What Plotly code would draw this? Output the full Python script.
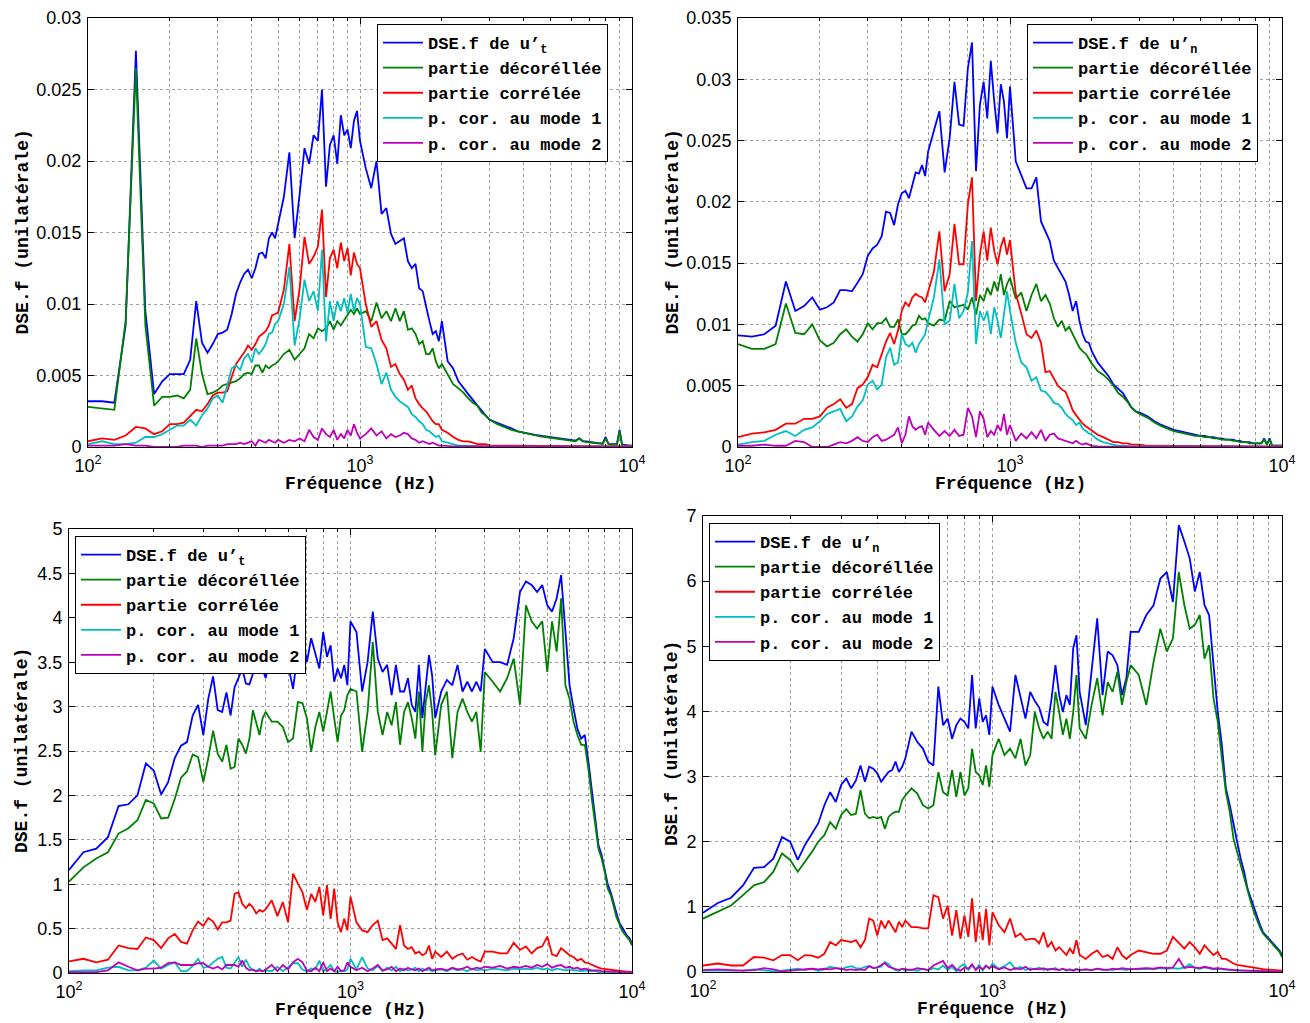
import plotly.graph_objects as go

# ---------------- frequency grid (Hz) ----------------
freq = [100, 112.5, 125, 137.5, 150, 162.5, 175, 187.5, 200, 212.5, 225, 237.5, 250, 262.5, 275, 287.5, 300,
        312.5, 325, 337.5, 350, 362.5, 375, 387.5, 400, 412.5, 425, 437.5, 450, 462.5, 475, 487.5, 500,
        525, 550, 575, 600, 625, 650, 675, 700, 725, 750, 775, 800, 825, 850, 875, 900, 925, 950, 975, 1000,
        1050, 1100, 1150, 1200, 1250, 1300, 1350, 1400, 1450, 1500, 1550, 1600, 1650, 1700, 1750, 1800, 1850, 1900, 1950, 2000,
        2100, 2200, 2300, 2400, 2500, 2600, 2700, 2800, 2900, 3000, 3200, 3400, 3600, 3800, 4000,
        4200, 4400, 4600, 4800, 5000, 5200, 5400, 5600, 5800, 6000, 6200, 6400, 6600, 6800, 7000, 7200, 7400, 7600, 7800, 8000,
        8200, 8400, 8600, 8800, 9000, 9200, 9400, 9600, 9800, 10000]

# ---------------- top-left : u't ----------------
tl_total = [.0032, .0032, .0031, .0085, .0277, .0095, .0037, .0046, .0051, .0051, .0051, .0061, .0102, .0073, .0066, .0072, .0079, .0080, .0082, .0093, .0107, .0115, .0121, .0124, .0118, .0125, .0135, .0136, .0132, .0146, .0150, .0146, .0156,
            .0175, .0206, .0146, .0177, .0209, .0198, .0218, .0214, .0250, .0182, .0211, .0218, .0198, .0232, .0218, .0222, .0209, .0228, .0235, .0214,
            .0195, .0181, .0200, .0163, .0167, .0149, .0142, .0144, .0146, .0130, .0125, .0128, .0111, .0109, .0097, .0088, .0079, .0081, .0074, .0088,
            .0060, .0055, .0046, .0041, .0037, .0033, .0029, .0025, .0022, .0019, .0017, .0015, .0013, .0011, .0010,
            .0009, .00085, .0008, .00075, .0007, .00065, .0006, .00055, .0005, .0005, .00045, .0006, .0004, .0004, .00035, .0003, .0003, .00025, .00025, .0007,
            .0002, .0002, .0002, .0002, .0012, .00015, .00015, .0001, .0001, .0001]
tl_decor = [.0028, .0027, .0026, .0088, .0265, .0085, .0029, .0035, .0035, .0036, .0034, .0040, .0076, .0051, .0037, .0038, .0040, .0043, .0044, .0045, .0046, .0048, .0051, .0052, .0051, .0057, .0057, .0052, .0057, .0055, .0057, .0058, .0060,
            .0065, .0068, .0061, .0065, .0069, .0079, .0076, .0083, .0081, .0083, .0088, .0082, .0088, .0085, .0089, .0092, .0096, .0093, .0097, .0093,
            .0095, .0088, .0101, .0090, .0095, .0088, .0097, .0088, .0095, .0082, .0083, .0079, .0072, .0074, .0065, .0065, .0069, .0060, .0055, .0058,
            .0051, .0044, .0041, .0038, .0034, .0031, .0029, .0024, .0022, .0019, .0016, .0014, .0012, .0011, .0010,
            .0009, .0008, .00075, .0007, .00065, .0006, .00055, .0005, .0005, .00045, .0004, .0006, .0004, .00035, .0003, .0003, .00025, .00025, .0002, .0006,
            .0002, .00015, .00015, .00015, .0011, .0001, .0001, .0001, .0001, .0001]
tl_corr = [.0004, .0006, .0005, .0008, .0014, .0013, .0009, .0011, .0016, .0016, .0017, .0022, .0026, .0025, .0030, .0036, .0038, .0038, .0039, .0049, .0058, .0062, .0066, .0071, .0068, .0072, .0077, .0079, .0081, .0085, .0092, .0093, .0094,
           .0110, .0142, .0088, .0111, .0147, .0128, .0133, .0140, .0166, .0105, .0132, .0138, .0125, .0143, .0130, .0139, .0120, .0136, .0128, .0125,
           .0100, .0084, .0088, .0075, .0069, .0056, .0058, .0051, .0047, .0040, .0043, .0034, .0030, .0027, .0025, .0021, .0018, .0016, .0016, .0012,
           .0010, .0007, .0005, .0004, .0004, .0003, .0002, .0002, .0002, .0001, .0001, .0001, .0001, .0001, .0001,
           .0001, .0001, .0001, .0001, .0001, .00005, .00005, .00005, .00005, .00005, .00005, .00005, .00005, .00005, .00005, .00005, .00005, .00005, .00005, .00005,
           .00005, .00005, .00005, .00005, .00005, .00005, .00005, .00005, .00005, .00005]
tl_mode1 = [.0002, .0004, .0002, .0002, .0003, .0007, .0007, .0009, .0012, .0015, .0015, .0019, .0015, .0022, .0027, .0034, .0036, .0031, .0043, .0055, .0057, .0054, .0062, .0065, .0059, .0069, .0065, .0068, .0072, .0079, .0080, .0086, .0088,
            .0100, .0126, .0071, .0090, .0117, .0102, .0109, .0095, .0138, .0074, .0102, .0088, .0102, .0095, .0104, .0094, .0107, .0095, .0104, .0100,
            .0070, .0069, .0058, .0044, .0052, .0040, .0035, .0032, .0030, .0028, .0023, .0021, .0018, .0016, .0012, .0011, .0009, .0007, .0008, .0004,
            .0003, .0002, .0001, .0001, .0001, .00005, .00005, .00005, .00005, .00005, .00003, .00003, .00003, .00003, .00003,
            .00002, .00002, .00002, .00002, .00002, .00002, .00002, .00002, .00002, .00002, .00002, .00002, .00002, .00002, .00002, .00002, .00002, .00002, .00002, .00002,
            .00002, .00002, .00002, .00002, .00002, .00002, .00002, .00002, .00002, .00002]
tl_mode2 = [.0001, .0001, .0001, .0002, .0001, .0001, .0000, .0000, .0000, .0000, .0001, .0001, .0001, .0000, .0001, .0001, .0001, .0001, .0002, .0002, .0002, .0003, .0002, .0003, .0004, .0001, .0005, .0004, .0003, .0005, .0004, .0003, .0005,
            .0003, .0005, .0004, .0006, .0004, .0012, .0007, .0005, .0013, .0009, .0007, .0012, .0005, .0009, .0006, .0012, .0008, .0016, .0010, .0006,
            .0009, .0013, .0008, .0011, .0006, .0009, .0007, .0008, .0010, .0009, .0006, .0005, .0003, .0004, .0003, .0002, .0003, .0002, .0001, .0001,
            .00005, .00005, .00005, .00005, .00005, .00003, .00003, .00003, .00003, .00003, .00003, .00003, .00003, .00003, .00003,
            .00001, .00001, .00001, .00001, .00001, .00001, .00001, .00001, .00001, .00001, .00001, .00001, .00001, .00001, .00001, .00001, .00001, .00001, .00001, .00001,
            .00001, .00001, .00001, .00001, .00001, .00001, .00001, .00001, .00001, .00001]

# ---------------- top-right : u'n ----------------
tr_total = [.0091, .0090, .0092, .0099, .0135, .0111, .0115, .0122, .0112, .0114, .0118, .0128, .0128, .0127, .0134, .0141, .0156, .0162, .0165, .0172, .0192, .0191, .0181, .0198, .0207, .0209, .0203, .0215, .0224, .0223, .0230, .0221, .0241,
            .0258, .0274, .0224, .0252, .0298, .0263, .0262, .0309, .0330, .0225, .0279, .0298, .0268, .0315, .0282, .0256, .0296, .0282, .0252, .0294,
            .0233, .0222, .0211, .0211, .0220, .0184, .0176, .0168, .0152, .0146, .0141, .0135, .0124, .0111, .0119, .0103, .0092, .0086, .0085, .0078,
            .0069, .0063, .0058, .0051, .0047, .0044, .0038, .0032, .0029, .0028, .0025, .0021, .0018, .0016, .0014,
            .0013, .0012, .0011, .0010, .0009, .0009, .0008, .0008, .0007, .0007, .0006, .0006, .0006, .0005, .0005, .0004, .0004, .0004, .0003, .0003,
            .0003, .0003, .0007, .0002, .0007, .0001, .0001, .0001, .0001, .0001]
tr_decor = [.0084, .0080, .0080, .0084, .0117, .0093, .0092, .0100, .0087, .0082, .0085, .0092, .0096, .0090, .0086, .0092, .0101, .0096, .0101, .0101, .0105, .0098, .0098, .0104, .0092, .0092, .0095, .0099, .0100, .0107, .0104, .0105, .0101,
            .0099, .0104, .0103, .0119, .0114, .0115, .0116, .0112, .0122, .0108, .0124, .0119, .0130, .0124, .0135, .0127, .0141, .0124, .0133, .0138,
            .0121, .0126, .0111, .0124, .0133, .0119, .0124, .0117, .0105, .0098, .0103, .0095, .0098, .0092, .0087, .0081, .0078, .0076, .0072, .0068,
            .0062, .0059, .0055, .0050, .0044, .0041, .0037, .0032, .0029, .0027, .0024, .0020, .0017, .0015, .0013,
            .0012, .0011, .0010, .0009, .0009, .0008, .0008, .0007, .0007, .0006, .0006, .0006, .0005, .0005, .0004, .0004, .0004, .0003, .0003, .0003,
            .0003, .0003, .0006, .0002, .0006, .0001, .0001, .0001, .0001, .0001]
tr_corr = [.0008, .0011, .0012, .0014, .0019, .0019, .0023, .0023, .0025, .0032, .0035, .0039, .0032, .0035, .0048, .0051, .0057, .0067, .0065, .0076, .0086, .0093, .0084, .0095, .0111, .0118, .0115, .0122, .0125, .0123, .0122, .0118, .0127,
           .0143, .0176, .0127, .0141, .0182, .0149, .0149, .0198, .0220, .0119, .0157, .0176, .0152, .0179, .0160, .0149, .0163, .0171, .0157, .0169,
           .0125, .0109, .0092, .0089, .0095, .0085, .0061, .0062, .0056, .0050, .0047, .0045, .0038, .0030, .0026, .0022, .0019, .0017, .0015, .0013,
           .0010, .0008, .0006, .0004, .0004, .0003, .0003, .0002, .0002, .0002, .0001, .0001, .0001, .0001, .0001,
           .0001, .0001, .0001, .0001, .0001, .0001, .00005, .00005, .00005, .00005, .00005, .00005, .00005, .00005, .00005, .00005, .00005, .00005, .00005, .00005,
           .00005, .00005, .00005, .00005, .00005, .00005, .00005, .00005, .00005, .00005]
tr_mode1 = [.0002, .0004, .0005, .0010, .0013, .0009, .0014, .0016, .0021, .0027, .0029, .0031, .0021, .0025, .0033, .0038, .0051, .0054, .0047, .0051, .0073, .0081, .0067, .0069, .0092, .0084, .0082, .0085, .0077, .0084, .0088, .0092, .0103,
            .0122, .0153, .0100, .0103, .0133, .0105, .0111, .0126, .0168, .0084, .0111, .0103, .0111, .0092, .0114, .0103, .0089, .0108, .0127, .0111,
            .0085, .0069, .0065, .0054, .0057, .0046, .0045, .0041, .0036, .0035, .0032, .0027, .0024, .0022, .0018, .0020, .0015, .0013, .0011, .0010,
            .0006, .0004, .0003, .0002, .0001, .0001, .00005, .00005, .00005, .00005, .00003, .00003, .00003, .00003, .00003,
            .00002, .00002, .00002, .00002, .00002, .00002, .00002, .00002, .00002, .00002, .00002, .00002, .00002, .00002, .00002, .00002, .00002, .00002, .00002, .00002,
            .00002, .00002, .00002, .00002, .00002, .00002, .00002, .00002, .00002, .00002]
tr_mode2 = [.0001, .0001, .0002, .0001, .0001, .0005, .0004, .0000, .0000, .0000, .0002, .0004, .0003, .0005, .0008, .0005, .0004, .0008, .0010, .0005, .0006, .0008, .0010, .0016, .0003, .0010, .0025, .0017, .0014, .0016, .0017, .0010, .0020,
            .0014, .0009, .0013, .0009, .0014, .0009, .0010, .0032, .0025, .0008, .0029, .0023, .0008, .0013, .0010, .0018, .0013, .0027, .0010, .0018,
            .0005, .0011, .0007, .0012, .0007, .0014, .0005, .0010, .0011, .0007, .0006, .0005, .0004, .0003, .0005, .0003, .0002, .0003, .0002, .0001,
            .00005, .00005, .00005, .00005, .00005, .00003, .00003, .00003, .00003, .00003, .00003, .00003, .00003, .00003, .00003,
            .00001, .00001, .00001, .00001, .00001, .00001, .00001, .00001, .00001, .00001, .00001, .00001, .00001, .00001, .00001, .00001, .00001, .00001, .00001, .00001,
            .00001, .00001, .00001, .00001, .00001, .00001, .00001, .00001, .00001, .00001]

# ---------------- bottom-left : u't ----------------
bl_total = [1.16, 1.36, 1.40, 1.53, 1.88, 1.90, 2.00, 2.36, 2.28, 2.01, 2.15, 2.42, 2.56, 2.60, 2.90, 3.02, 2.68, 3.09, 3.34, 2.96, 2.94, 3.16, 2.90, 3.22, 3.32, 3.43, 3.26, 3.25, 3.37, 3.69, 3.52, 3.41, 3.32,
            3.73, 3.50, 3.50, 3.47, 3.20, 3.62, 3.81, 3.50, 3.77, 3.60, 3.43, 3.84, 3.56, 3.69, 3.28, 3.43, 3.32, 3.47, 3.24, 3.96,
            3.84, 3.17, 3.50, 4.07, 3.54, 3.39, 3.47, 3.13, 3.47, 3.17, 3.17, 3.32, 3.02, 2.94, 3.47, 2.87, 3.20, 3.58, 3.35, 2.87,
            3.17, 3.30, 3.24, 3.47, 3.17, 3.28, 3.17, 3.28, 3.17, 3.65, 3.50, 3.50, 3.47, 3.77, 4.29,
            4.41, 4.37, 4.29, 4.37, 4.14, 4.07, 4.22, 4.48, 3.88, 3.24, 2.98, 2.75, 2.64, 2.68, 2.38, 2.04, 1.78, 1.44, 1.33, 1.18,
            1.00, 0.91, 0.80, 0.67, 0.57, 0.52, 0.46, 0.42, 0.39, 0.33]
bl_decor = [1.03, 1.19, 1.29, 1.36, 1.57, 1.63, 1.72, 1.95, 1.91, 1.74, 1.75, 1.96, 2.20, 2.27, 2.46, 2.43, 2.15, 2.42, 2.73, 2.47, 2.38, 2.57, 2.30, 2.32, 2.64, 2.57, 2.47, 2.64, 2.96, 2.83, 2.68, 2.87, 2.94,
            2.83, 2.83, 2.77, 2.60, 2.64, 3.05, 3.04, 2.87, 2.49, 2.77, 2.94, 2.72, 2.94, 3.17, 2.87, 2.60, 2.90, 2.96, 3.13, 3.20,
            3.17, 2.49, 2.94, 3.73, 2.94, 2.68, 2.94, 2.79, 3.05, 2.57, 2.94, 3.05, 2.87, 2.64, 3.17, 2.49, 3.05, 3.24, 2.94, 2.45,
            3.02, 3.17, 2.42, 2.94, 3.09, 2.94, 2.83, 2.94, 2.49, 3.39, 3.28, 3.17, 3.32, 3.54, 3.02,
            4.14, 3.96, 3.88, 3.96, 3.39, 3.96, 3.62, 4.22, 3.24, 3.09, 2.83, 2.68, 2.57, 2.57, 2.30, 1.96, 1.70, 1.40, 1.29, 1.14,
            0.95, 0.88, 0.76, 0.63, 0.56, 0.48, 0.44, 0.41, 0.37, 0.31]
bl_corr = [0.13, 0.16, 0.12, 0.15, 0.31, 0.28, 0.27, 0.40, 0.37, 0.28, 0.39, 0.44, 0.35, 0.33, 0.48, 0.58, 0.53, 0.62, 0.58, 0.49, 0.57, 0.57, 0.59, 0.89, 0.91, 0.78, 0.73, 0.78, 0.74, 0.67, 0.71, 0.69, 0.72,
           0.82, 0.64, 0.80, 0.57, 1.12, 1.01, 0.91, 0.71, 0.89, 0.80, 0.97, 0.65, 0.99, 0.61, 0.95, 0.57, 0.46, 0.61, 0.48, 0.86,
           0.57, 0.48, 0.46, 0.54, 0.59, 0.37, 0.39, 0.33, 0.27, 0.54, 0.31, 0.27, 0.29, 0.22, 0.24, 0.20, 0.22, 0.31, 0.16, 0.24,
           0.18, 0.24, 0.16, 0.20, 0.22, 0.15, 0.18, 0.15, 0.13, 0.24, 0.24, 0.22, 0.22, 0.34, 0.26,
           0.30, 0.22, 0.28, 0.30, 0.41, 0.21, 0.19, 0.28, 0.24, 0.20, 0.18, 0.14, 0.16, 0.12, 0.11, 0.09, 0.07, 0.06, 0.05, 0.045,
           0.04, 0.035, 0.03, 0.03, 0.025, 0.02, 0.02, 0.015, 0.015, 0.01]
bl_mode1 = [0.02, 0.03, 0.03, 0.06, 0.07, 0.03, 0.03, 0.06, 0.14, 0.05, 0.09, 0.12, 0.02, 0.02, 0.08, 0.16, 0.06, 0.07, 0.12, 0.16, 0.18, 0.06, 0.05, 0.11, 0.18, 0.07, 0.15, 0.07, 0.03, 0.02, 0.05, 0.02, 0.03,
            0.02, 0.07, 0.02, 0.07, 0.11, 0.11, 0.04, 0.02, 0.05, 0.04, 0.14, 0.02, 0.05, 0.09, 0.02, 0.01, 0.03, 0.02, 0.04, 0.16,
            0.04, 0.18, 0.05, 0.03, 0.08, 0.02, 0.06, 0.03, 0.07, 0.02, 0.05, 0.03, 0.04, 0.06, 0.02, 0.05, 0.03, 0.04, 0.02, 0.03,
            0.04, 0.02, 0.05, 0.03, 0.04, 0.02, 0.05, 0.03, 0.04, 0.03, 0.05, 0.04, 0.03, 0.05, 0.04,
            0.05, 0.04, 0.06, 0.04, 0.05, 0.03, 0.05, 0.04, 0.03, 0.04, 0.03, 0.03, 0.02, 0.03, 0.02, 0.02, 0.02, 0.01, 0.01, 0.01,
            0.01, 0.01, 0.01, 0.01, 0.01, 0.005, 0.005, 0.005, 0.005, 0.005]
bl_mode2 = [0.01, 0.01, 0.01, 0.03, 0.12, 0.07, 0.03, 0.05, 0.05, 0.06, 0.11, 0.12, 0.09, 0.09, 0.09, 0.11, 0.11, 0.07, 0.05, 0.07, 0.04, 0.09, 0.09, 0.09, 0.07, 0.14, 0.06, 0.03, 0.04, 0.02, 0.03, 0.02, 0.04,
            0.09, 0.02, 0.09, 0.04, 0.12, 0.16, 0.12, 0.03, 0.02, 0.06, 0.02, 0.12, 0.02, 0.05, 0.02, 0.07, 0.02, 0.03, 0.12, 0.07,
            0.03, 0.06, 0.02, 0.05, 0.09, 0.03, 0.04, 0.07, 0.02, 0.05, 0.03, 0.06, 0.04, 0.03, 0.05, 0.02, 0.04, 0.06, 0.03, 0.04,
            0.05, 0.03, 0.06, 0.04, 0.05, 0.07, 0.04, 0.06, 0.05, 0.07, 0.06, 0.08, 0.05, 0.07, 0.06,
            0.08, 0.06, 0.09, 0.07, 0.10, 0.06, 0.08, 0.09, 0.06, 0.07, 0.05, 0.06, 0.04, 0.05, 0.04, 0.03, 0.03, 0.03, 0.02, 0.02,
            0.02, 0.02, 0.015, 0.015, 0.01, 0.01, 0.01, 0.01, 0.01, 0.01]

# ---------------- bottom-right : u'n ----------------
br_total = [0.91, 1.06, 1.14, 1.33, 1.60, 1.61, 1.74, 2.07, 2.00, 1.72, 1.95, 2.12, 2.28, 2.56, 2.76, 2.61, 2.87, 2.97, 2.82, 2.94, 3.17, 2.92, 3.15, 3.12, 3.05, 2.92, 3.00, 3.07, 3.10, 3.23, 3.07, 3.15, 3.28,
            3.69, 3.53, 3.43, 3.23, 3.17, 4.38, 3.79, 3.89, 3.58, 3.79, 3.89, 3.84, 3.74, 4.56, 3.74, 4.20, 3.84, 3.94, 3.64, 4.38,
            4.10, 3.89, 3.69, 4.56, 4.20, 3.89, 4.30, 4.16, 4.06, 3.84, 3.79, 4.20, 4.71, 4.25, 3.99, 4.25, 4.10, 4.97, 5.17, 4.30,
            3.79, 4.61, 5.43, 4.25, 4.92, 4.86, 4.71, 4.25, 4.51, 5.22, 5.22, 5.48, 5.63, 6.04, 6.14,
            5.68, 6.86, 6.61, 6.35, 5.84, 6.14, 5.63, 5.48, 4.71, 3.99, 3.48, 2.82, 2.56, 2.25, 2.00, 1.74, 1.54, 1.28, 1.13, 0.97,
            0.84, 0.72, 0.61, 0.56, 0.51, 0.46, 0.42, 0.37, 0.33, 0.26]
br_decor = [0.82, 0.92, 1.02, 1.18, 1.33, 1.38, 1.54, 1.82, 1.72, 1.54, 1.69, 1.84, 2.00, 2.10, 2.30, 2.20, 2.41, 2.50, 2.41, 2.43, 2.79, 2.43, 2.36, 2.38, 2.36, 2.38, 2.20, 2.38, 2.43, 2.46, 2.46, 2.64, 2.71,
            2.82, 2.74, 2.56, 2.51, 2.56, 3.07, 2.76, 2.71, 3.10, 2.69, 3.07, 2.71, 2.82, 3.43, 3.07, 3.02, 2.87, 3.17, 2.84, 3.33,
            3.58, 3.33, 3.43, 3.28, 3.58, 3.17, 3.33, 3.99, 3.74, 3.58, 3.69, 3.58, 4.30, 3.99, 3.64, 3.89, 3.58, 3.99, 4.56, 3.74,
            3.58, 4.10, 4.51, 3.94, 4.45, 4.30, 4.61, 4.10, 4.45, 4.71, 4.56, 4.10, 4.76, 5.27, 4.92,
            5.12, 6.14, 5.63, 5.27, 5.33, 5.48, 4.81, 5.02, 4.20, 3.84, 3.28, 2.76, 2.46, 2.05, 1.84, 1.64, 1.43, 1.23, 1.08, 0.92,
            0.79, 0.68, 0.59, 0.54, 0.49, 0.44, 0.40, 0.35, 0.31, 0.23]
br_corr = [0.10, 0.13, 0.10, 0.10, 0.23, 0.22, 0.18, 0.26, 0.26, 0.18, 0.26, 0.25, 0.22, 0.28, 0.46, 0.41, 0.49, 0.47, 0.46, 0.49, 0.38, 0.49, 0.82, 0.79, 0.56, 0.79, 0.67, 0.79, 0.69, 0.61, 0.77, 0.69, 0.79,
           0.69, 0.69, 0.67, 0.67, 1.18, 1.15, 0.82, 1.02, 0.56, 0.95, 0.51, 0.87, 0.54, 1.13, 0.46, 0.92, 0.49, 0.97, 0.41, 0.92,
           0.72, 0.61, 0.82, 0.54, 0.59, 0.49, 0.51, 0.51, 0.44, 0.61, 0.38, 0.46, 0.33, 0.38, 0.31, 0.26, 0.36, 0.28, 0.49, 0.26,
           0.20, 0.28, 0.33, 0.23, 0.26, 0.20, 0.38, 0.26, 0.20, 0.26, 0.33, 0.31, 0.28, 0.28, 0.33,
           0.54, 0.44, 0.36, 0.46, 0.38, 0.28, 0.41, 0.33, 0.26, 0.31, 0.20, 0.20, 0.16, 0.13, 0.11, 0.10, 0.09, 0.08, 0.07, 0.06,
           0.055, 0.05, 0.045, 0.04, 0.035, 0.03, 0.03, 0.025, 0.02, 0.02]
br_mode1 = [0.02, 0.02, 0.01, 0.02, 0.04, 0.02, 0.01, 0.02, 0.04, 0.05, 0.03, 0.05, 0.02, 0.04, 0.08, 0.06, 0.04, 0.07, 0.09, 0.06, 0.05, 0.08, 0.09, 0.06, 0.07, 0.08, 0.15, 0.12, 0.06, 0.03, 0.02, 0.05, 0.02,
            0.04, 0.02, 0.05, 0.03, 0.06, 0.04, 0.10, 0.03, 0.08, 0.01, 0.09, 0.12, 0.03, 0.10, 0.04, 0.11, 0.02, 0.09, 0.05, 0.13,
            0.05, 0.09, 0.15, 0.04, 0.08, 0.03, 0.06, 0.04, 0.07, 0.03, 0.05, 0.04, 0.06, 0.03, 0.05, 0.02, 0.04, 0.03, 0.05, 0.03,
            0.04, 0.03, 0.05, 0.03, 0.04, 0.03, 0.05, 0.04, 0.03, 0.05, 0.04, 0.05, 0.04, 0.06, 0.05,
            0.06, 0.05, 0.07, 0.12, 0.06, 0.05, 0.07, 0.05, 0.04, 0.05, 0.04, 0.03, 0.03, 0.03, 0.02, 0.02, 0.02, 0.02, 0.01, 0.01,
            0.01, 0.01, 0.01, 0.01, 0.01, 0.005, 0.005, 0.005, 0.005, 0.005]
br_mode2 = [0.03, 0.04, 0.03, 0.02, 0.03, 0.06, 0.04, 0.01, 0.02, 0.03, 0.04, 0.05, 0.04, 0.05, 0.04, 0.06, 0.05, 0.03, 0.04, 0.03, 0.04, 0.03, 0.09, 0.06, 0.07, 0.11, 0.14, 0.08, 0.06, 0.04, 0.03, 0.05, 0.04,
            0.03, 0.06, 0.04, 0.03, 0.10, 0.13, 0.17, 0.06, 0.11, 0.04, 0.02, 0.07, 0.05, 0.12, 0.03, 0.08, 0.04, 0.10, 0.06, 0.09,
            0.04, 0.07, 0.03, 0.06, 0.04, 0.08, 0.03, 0.05, 0.04, 0.06, 0.03, 0.05, 0.04, 0.03, 0.05, 0.03, 0.04, 0.02, 0.04, 0.03,
            0.04, 0.03, 0.05, 0.04, 0.03, 0.05, 0.04, 0.06, 0.05, 0.04, 0.05, 0.06, 0.05, 0.07, 0.06,
            0.07, 0.20, 0.06, 0.08, 0.07, 0.06, 0.08, 0.06, 0.05, 0.06, 0.05, 0.04, 0.04, 0.03, 0.03, 0.02, 0.02, 0.02, 0.02, 0.015,
            0.015, 0.01, 0.01, 0.01, 0.01, 0.01, 0.005, 0.005, 0.005, 0.005]

# ---------------- labels / ticks ----------------
labels_t = ["DSE.f de u’<sub>t</sub>", "partie décoréllée", "partie corrélée", "p. cor. au mode 1", "p. cor. au mode 2"]
labels_n = ["DSE.f de u’<sub>n</sub>", "partie décoréllée", "partie corrélée", "p. cor. au mode 1", "p. cor. au mode 2"]
colors = ["#0000ff", "#008000", "#ff0000", "#00bfbf", "#bf00bf"]
x_tickvals = [100, 1000, 10000]
x_ticktext = ["10<sup>2</sup>", "10<sup>3</sup>", "10<sup>4</sup>"]
x_minor = [200, 300, 400, 500, 600, 700, 800, 900, 2000, 3000, 4000, 5000, 6000, 7000, 8000, 9000]
y_ticks_tl = [0, 0.005, 0.01, 0.015, 0.02, 0.025, 0.03]
y_text_tl = ["0", "0.005", "0.01", "0.015", "0.02", "0.025", "0.03"]
y_ticks_tr = [0, 0.005, 0.01, 0.015, 0.02, 0.025, 0.03, 0.035]
y_text_tr = ["0", "0.005", "0.01", "0.015", "0.02", "0.025", "0.03", "0.035"]
y_ticks_bl = [0, 0.5, 1, 1.5, 2, 2.5, 3, 3.5, 4, 4.5, 5]
y_text_bl = ["0", "0.5", "1", "1.5", "2", "2.5", "3", "3.5", "4", "4.5", "5"]
y_ticks_br = [0, 1, 2, 3, 4, 5, 6, 7]
y_text_br = ["0", "1", "2", "3", "4", "5", "6", "7"]
x_title = "Fréquence (Hz)"
y_title = "DSE.f (unilatérale)"

# The page body has an 8 px margin: the figure is drawn at (8, 8) in the window,
# so window-pixel positions below are shifted by OFF when converted to paper units.
OFF = 8
W, H = 1310 - OFF, 1023 - OFF
MONO = "Liberation Mono, Courier New, monospace"
SANS = "Liberation Sans, Arial, sans-serif"
GRID = "rgba(60,60,60,0.5)"


def px(x):
    return (x - OFF) / W


def py(y):
    return 1 - (y - OFF) / H


panels = [
    # series, labels, plot box in window px (x0, x1, ytop, ybottom), y range, yticks, ytext, legend box (left, top)
    ([tl_total, tl_decor, tl_corr, tl_mode1, tl_mode2], labels_t, (88, 632, 18, 447), (0, 0.03), y_ticks_tl, y_text_tl, (377, 24)),
    ([tr_total, tr_decor, tr_corr, tr_mode1, tr_mode2], labels_n, (738, 1282, 18, 447), (0, 0.035), y_ticks_tr, y_text_tr, (1027, 24)),
    ([bl_total, bl_decor, bl_corr, bl_mode1, bl_mode2], labels_t, (69, 632, 529, 973), (0, 5), y_ticks_bl, y_text_bl, (75, 536)),
    ([br_total, br_decor, br_corr, br_mode1, br_mode2], labels_n, (703, 1282, 516, 972), (0, 7), y_ticks_br, y_text_br, (709, 523)),
]

for p in panels:
    for s in p[0]:
        if len(s) != len(freq):
            raise ValueError(f"series length {len(s)} != {len(freq)}")

fig = go.Figure()
layout = dict(width=W, height=H, margin=dict(l=0, r=0, t=0, b=0), paper_bgcolor="white",
              plot_bgcolor="white", showlegend=True, annotations=[])

for idx, (series, labels, box, yr, ytv, ytt, leg) in enumerate(panels):
    x0, x1, yt, yb = box
    sfx = "" if idx == 0 else str(idx + 1)
    xa, ya = "x" + sfx, "y" + sfx
    legname = "legend" + sfx
    for s, lab, col in zip(series, labels, colors):
        fig.add_trace(go.Scatter(x=freq, y=s, mode="lines", name=lab,
                                 line=dict(color=col, width=1.8),
                                 xaxis=xa, yaxis=ya, legend=legname))
    layout["xaxis" + sfx] = dict(
        domain=[px(x0), px(x1)], anchor=ya, type="log", range=[2, 4],
        tickmode="array", tickvals=x_tickvals, ticktext=x_ticktext,
        ticks="inside", ticklen=6, tickcolor="black", ticklabelstandoff=2,
        showline=True, linecolor="black", linewidth=1, mirror="ticks",
        showgrid=True, gridcolor=GRID, griddash="dot", gridwidth=1,
        minor=dict(tickmode="array", tickvals=x_minor, ticks="inside", ticklen=3, tickcolor="black",
                   showgrid=True, gridcolor=GRID, griddash="dot", gridwidth=1),
        tickfont=dict(family=SANS, size=18, color="black"), zeroline=False, automargin=False)
    layout["yaxis" + sfx] = dict(
        domain=[py(yb), py(yt)], anchor=xa, range=list(yr),
        tickmode="array", tickvals=ytv, ticktext=ytt,
        ticks="inside", ticklen=6, tickcolor="black", ticklabelstandoff=2,
        showline=True, linecolor="black", linewidth=1, mirror="ticks",
        showgrid=True, gridcolor=GRID, griddash="dot", gridwidth=1,
        tickfont=dict(family=SANS, size=18, color="black"), zeroline=False, automargin=False)
    layout[legname] = dict(
        x=px(leg[0]), y=py(leg[1]), xanchor="left", yanchor="top",
        bgcolor="white", bordercolor="black", borderwidth=1,
        font=dict(family=MONO, size=17, color="black", weight="bold"),
        itemwidth=40, tracegroupgap=0)
    layout["annotations"].append(dict(
        text=x_title, x=px((x0 + x1) / 2), y=py(yb + 37), xref="paper", yref="paper",
        showarrow=False, xanchor="center", yanchor="middle",
        font=dict(family=MONO, size=18, color="black", weight="bold")))
    layout["annotations"].append(dict(
        text=y_title, x=px(22 if idx in (0, 2) else 672), y=py((yt + yb) / 2),
        xref="paper", yref="paper", showarrow=False, textangle=-90,
        xanchor="center", yanchor="middle",
        font=dict(family=MONO, size=18, color="black", weight="bold")))

fig.update_layout(**layout)
fig.write_html("out.html")
